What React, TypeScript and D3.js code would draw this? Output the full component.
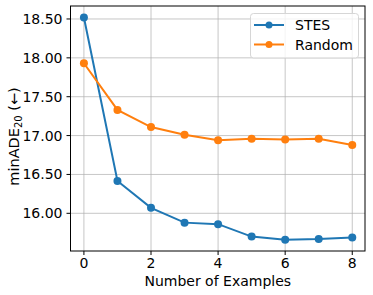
import React from "react";
import * as d3 from "d3";

const examples = [0, 1, 2, 3, 4, 5, 6, 7, 8];
const stes = [18.52, 16.415, 16.07, 15.88, 15.86, 15.7, 15.66, 15.67, 15.69];
const random = [17.93, 17.33, 17.11, 17.01, 16.94, 16.96, 16.95, 16.96, 16.88];
const xTicks = [0, 2, 4, 6, 8];
const yTicks = [16.0, 16.5, 17.0, 17.5, 18.0, 18.5];

const W = 373;
const H = 295;
const left = 70.5;
const right = 365;
const top = 6;
const bottom = 251;
const font = "DejaVu Sans, sans-serif";

const App = () => {
  const x = d3.scaleLinear().domain([-0.4, 8.38]).range([left, right]);
  const y = d3.scaleLinear().domain([15.515, 18.667]).range([bottom, top]);

  const line = d3
    .line<number>()
    .x((_, i) => x(examples[i]))
    .y((d) => y(d));

  const series = [
    { name: "STES", values: stes, color: "#1f77b4" },
    { name: "Random", values: random, color: "#ff7f0e" },
  ];

  return (
    <svg
      width={W}
      height={H}
      style={{ position: "absolute", left: 0, top: 0 }}
      fontFamily={font}
    >
      <rect width={W} height={H} fill="#fff" />
      {/* grid */}
      {xTicks.map((t) => (
        <line key={"gx" + t} x1={x(t)} x2={x(t)} y1={top} y2={bottom} stroke="#b0b0b0" strokeWidth={1} opacity={0.7} />
      ))}
      {yTicks.map((t) => (
        <line key={"gy" + t} x1={left} x2={right} y1={y(t)} y2={y(t)} stroke="#b0b0b0" strokeWidth={1} opacity={0.7} />
      ))}
      {/* series */}
      {series.map((s) => (
        <g key={s.name}>
          <path d={line(s.values) ?? ""} fill="none" stroke={s.color} strokeWidth={2} />
          {s.values.map((v, i) => (
            <circle key={i} cx={x(examples[i])} cy={y(v)} r={4} fill={s.color} />
          ))}
        </g>
      ))}
      {/* frame */}
      <rect x={left} y={top} width={right - left} height={bottom - top} fill="none" stroke="#000" strokeWidth={1} />
      {/* ticks */}
      {xTicks.map((t) => (
        <g key={"tx" + t}>
          <line x1={x(t)} x2={x(t)} y1={bottom} y2={bottom + 4} stroke="#000" />
          <text x={x(t)} y={bottom + 17} textAnchor="middle" fontSize={14}>
            {t}
          </text>
        </g>
      ))}
      {yTicks.map((t) => (
        <g key={"ty" + t}>
          <line x1={left - 4} x2={left} y1={y(t)} y2={y(t)} stroke="#000" />
          <text x={left - 8} y={y(t)} dy="0.36em" textAnchor="end" fontSize={14}>
            {t.toFixed(2)}
          </text>
        </g>
      ))}
      {/* axis labels */}
      <text x={(left + right) / 2} y={286} textAnchor="middle" fontSize={14}>
        Number of Examples
      </text>
      <text transform={`translate(19,${(top + bottom) / 2 + 8}) rotate(-90)`} textAnchor="middle" fontSize={14.5}>
        minADE<tspan fontSize={10} dy={3}>20</tspan>
        <tspan dy={-3}> (←)</tspan>
      </text>
      {/* legend */}
      <g>
        <rect x={250.5} y={13.5} width={108} height={44.5} rx={3} fill="#fff" fillOpacity={0.8} stroke="#d6d6d6" />
        {series.map((s, i) => (
          <g key={"lg" + s.name} transform={`translate(0,${25 + i * 19.5})`}>
            <line x1={254} x2={284} stroke={s.color} strokeWidth={2} />
            <circle cx={269} cy={0} r={3.5} fill={s.color} />
            <text x={295} dy="0.36em" fontSize={14}>
              {s.name}
            </text>
          </g>
        ))}
      </g>
    </svg>
  );
};

export default App;
